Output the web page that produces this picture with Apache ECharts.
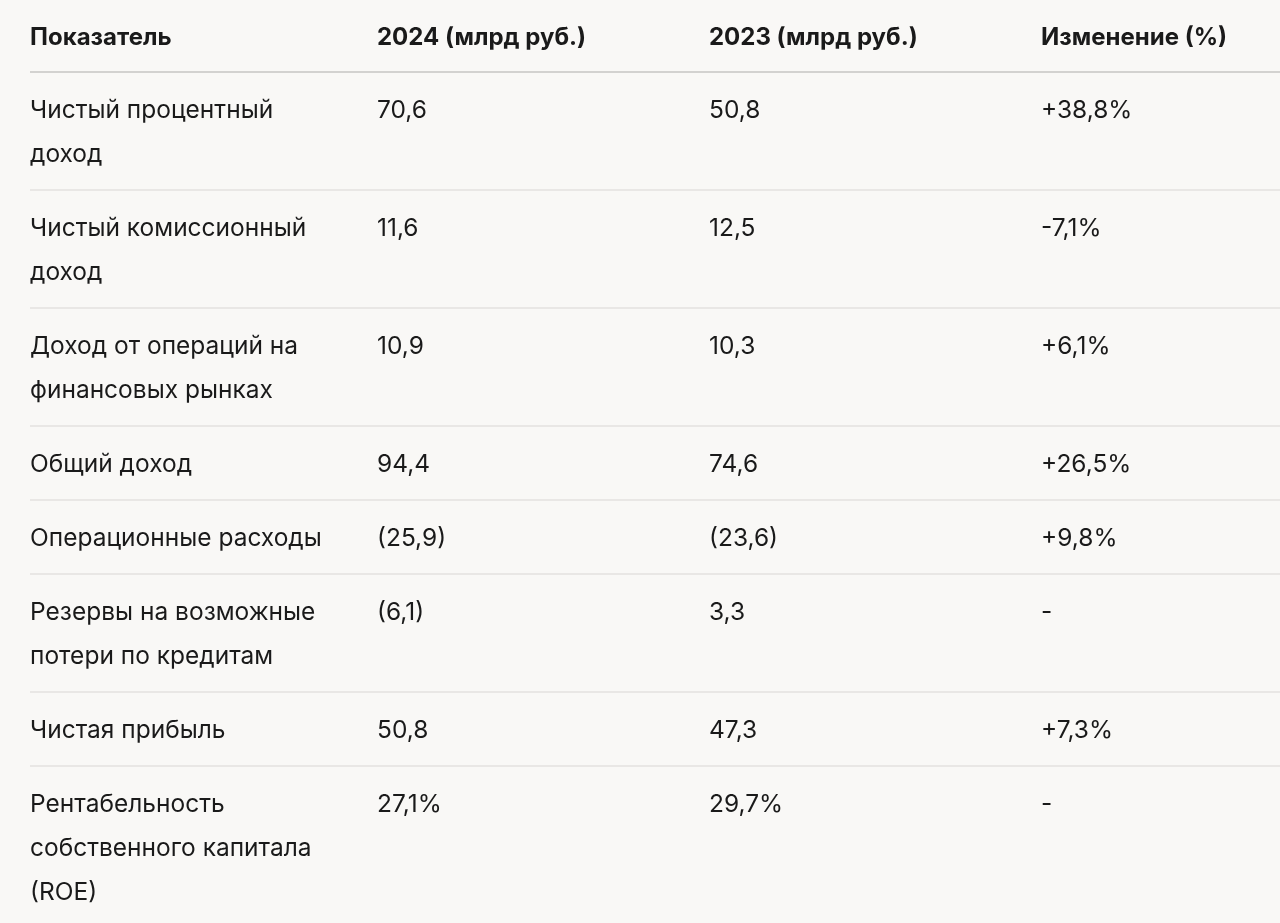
<!DOCTYPE html>
<html>
<head>
<meta charset="utf-8">
<title>Финансовые показатели</title>
<script src="https://cdn.jsdelivr.net/npm/echarts@6/dist/echarts.min.js"></script>
<style>
  html, body { margin: 0; padding: 0; background: #f9f8f6; }
  #main { width: 1280px; height: 923px; }
</style>
</head>
<body>
<div id="main"></div>
<script>
// данные таблицы
var headers = ['Показатель', '2024 (млрд руб.)', '2023 (млрд руб.)', 'Изменение (%)'];
var indicators = [
  'Чистый процентный\nдоход',
  'Чистый комиссионный\nдоход',
  'Доход от операций на\nфинансовых рынках',
  'Общий доход',
  'Операционные расходы',
  'Резервы на возможные\nпотери по кредитам',
  'Чистая прибыль',
  'Рентабельность\nсобственного капитала\n(ROE)'
];
var values2024 = ['70,6', '11,6', '10,9', '94,4', '(25,9)', '(6,1)', '50,8', '27,1%'];
var values2023 = ['50,8', '12,5', '10,3', '74,6', '(23,6)', '3,3', '47,3', '29,7%'];
var changes = ['+38,8%', '-7,1%', '+6,1%', '+26,5%', '+9,8%', '-', '+7,3%', '-'];

// раскладка
var colX = [30, 377, 709, 1041];
var headerH = 72;
var rowBase = 74;
var lineH = 44;

var rows = [[headers[0], headers[1], headers[2], headers[3]]];
indicators.forEach(function (name, i) {
  rows.push([name, values2024[i], values2023[i], changes[i]]);
});

var tableData = [];
var rowTop = 0;
rows.forEach(function (r, i) {
  var h = i === 0 ? headerH : rowBase + lineH * (r[0].split('\n').length - 1);
  tableData.push([i, rowTop, rowTop + h]);
  rowTop += h;
});

var myChart = echarts.init(document.getElementById('main'));

var option = {
  backgroundColor: '#f9f8f6',
  animation: false,
  grid: { left: 0, right: 0, top: 0, bottom: 0 },
  xAxis: { type: 'value', min: 0, max: 1280, show: false },
  yAxis: { type: 'value', min: 0, max: 923, inverse: true, show: false },
  series: [{
    type: 'custom',
    coordinateSystem: 'cartesian2d',
    data: tableData,
    renderItem: function (params, api) {
      var idx = api.value(0);
      var y0 = api.value(1);
      var y1 = api.value(2);
      var isHeader = idx === 0;
      var r = rows[idx];
      var children = [];
      var bottomL = api.coord([colX[0], y1]);
      var bottomR = api.coord([1280, y1]);
      children.push({
        type: 'line',
        shape: { x1: bottomL[0], y1: bottomL[1], x2: bottomR[0], y2: bottomR[1] },
        style: { stroke: isHeader ? '#d3d2d0' : '#e3e2df', lineWidth: isHeader ? 2 : 1.5 }
      });
      for (var c = 0; c < 4; c++) {
        var p = api.coord([colX[c], isHeader ? y0 + 38 : y0 + 39]);
        children.push({
          type: 'text',
          x: p[0],
          y: isHeader ? p[1] : p[1] - lineH / 2,
          style: {
            text: r[c],
            fill: '#1a1a1a',
            fontFamily: 'Inter',
            fontSize: isHeader ? 24 : 24.5,
            fontWeight: isHeader ? 'bold' : 'normal',
            lineHeight: lineH,
            align: 'left',
            verticalAlign: isHeader ? 'middle' : 'top'
          }
        });
      }
      return { type: 'group', children: children };
    }
  }]
};

myChart.setOption(option);
</script>
</body>
</html>
